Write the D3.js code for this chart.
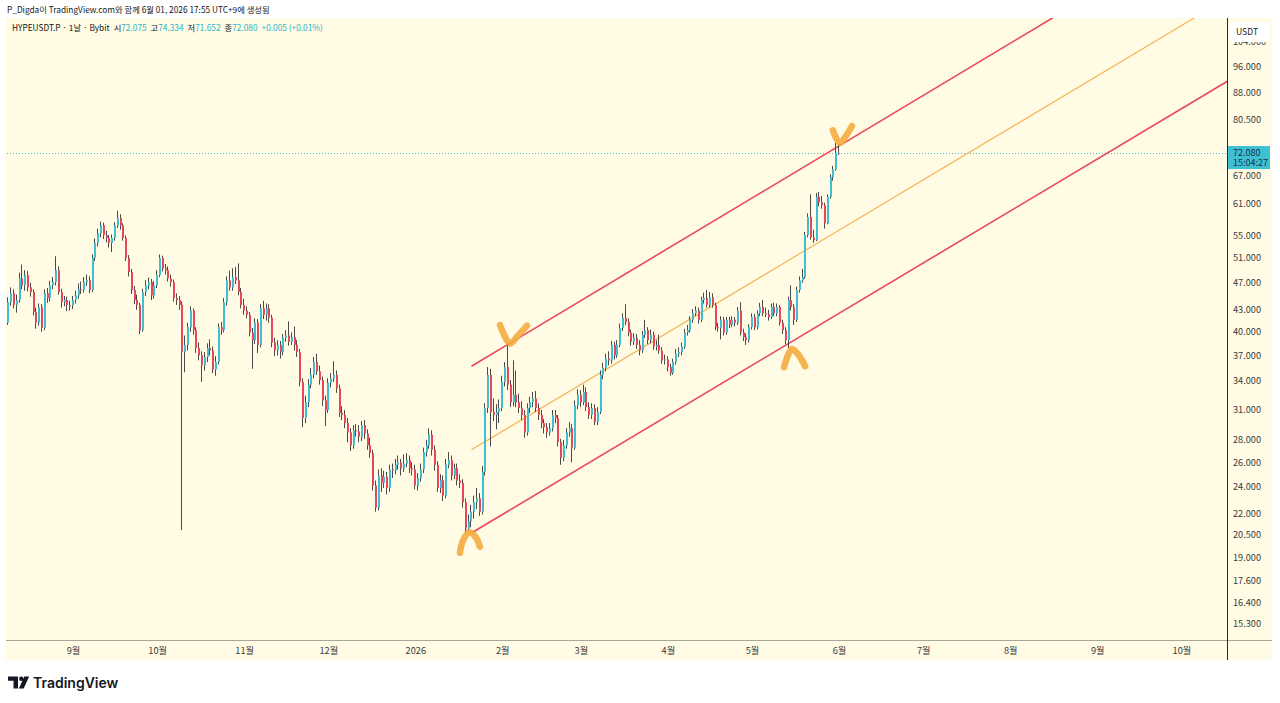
<!DOCTYPE html>
<html><head><meta charset="utf-8">
<script src="https://cdn.jsdelivr.net/npm/d3@7/dist/d3.min.js"></script>
<style>
body{margin:0;background:#fff;}
svg{display:block;}
text{font-family:"Noto Sans CJK KR","Noto Sans",sans-serif;}
</style>
</head><body>
<svg id="chart" width="1280" height="703"></svg>
<script>
// ---------------- DATA ----------------
const startDate = "2025-08-09";   // first daily candle
const firstOpen = 41.2;
const closes = [
44.1,45.4,43.7,44.4,47.7,46.6,48.2,46.3,45.6,42.7,
41.2,43.4,40.5,45.4,44.7,46.6,47.1,49.0,45.6,44.1,
44.4,43.7,43.6,44.4,45.1,46.0,45.9,47.1,47.4,45.9,
51.0,53.6,55.3,56.8,55.0,54.5,53.6,54.5,56.8,58.2,
56.8,54.5,51.0,48.7,45.9,44.4,43.7,40.2,45.6,46.6,
47.1,45.1,46.6,48.2,51.0,49.3,49.0,47.7,47.1,44.7,
44.4,43.7,37.4,38.3,40.6,42.9,40.2,37.9,37.0,35.8,
36.8,37.9,37.6,35.3,36.2,40.6,40.2,44.1,47.4,46.3,
47.9,47.4,45.6,43.7,42.9,42.3,39.9,38.9,41.2,38.3,
43.2,42.3,43.2,41.9,38.6,37.6,38.3,37.4,39.2,39.5,
38.7,39.3,38.3,37.4,33.9,30.1,31.7,33.6,34.7,36.2,
35.1,34.1,31.9,30.9,33.8,34.3,34.7,33.2,30.6,30.4,
29.6,28.7,27.5,28.9,28.8,28.3,29.4,28.6,27.5,26.8,
24.1,22.4,24.9,24.3,24.8,23.9,25.4,25.3,25.8,26.0,
25.5,25.9,26.2,25.5,25.4,24.1,24.7,25.4,26.9,27.5,
28.5,27.1,25.8,23.9,24.5,23.3,25.8,26.2,24.9,25.5,
24.5,24.3,22.8,20.9,21.4,22.1,22.8,23.1,22.1,25.2,
31.1,34.7,30.7,30.4,30.7,31.1,33.9,35.6,33.6,31.7,
32.5,31.7,31.1,30.4,28.7,31.1,31.7,32.1,31.1,30.4,
29.6,29.2,28.7,29.1,30.4,30.1,27.8,26.4,27.5,28.7,
29.1,27.3,31.4,32.5,31.7,32.8,31.2,30.4,31.1,29.7,
30.7,34.7,35.5,36.6,36.4,38.3,37.0,38.3,40.5,41.9,
41.3,39.9,38.7,39.2,38.3,37.6,39.6,40.2,38.9,39.6,
38.1,38.3,37.6,36.4,36.5,35.6,34.9,36.2,37.2,37.4,
38.1,39.9,40.2,41.6,42.5,42.9,41.6,44.4,44.7,43.7,
44.8,43.7,40.6,40.5,41.6,39.9,41.6,40.9,41.6,41.2,
42.9,39.9,39.3,38.9,40.6,42.0,40.6,42.5,43.4,42.5,
42.4,42.0,43.4,42.5,43.4,41.2,40.2,38.9,44.4,43.4,
41.6,45.9,47.4,47.9,55.0,58.4,54.6,54.1,62.4,61.3,
60.7,57.2,62.4,66.6,68.3,72.075,72.080];
const highs = [
44.8,46.3,46.0,45.2,48.6,49.9,49.0,48.9,47.0,46.0,
43.3,43.9,43.8,46.0,46.2,47.3,47.9,51.3,49.6,46.1,
45.0,44.9,44.3,45.0,45.8,46.9,47.2,47.9,48.3,48.0,
51.6,54.4,56.2,57.5,57.3,55.8,55.0,55.1,57.4,59.6,
58.9,57.2,54.9,51.5,49.2,46.5,45.2,44.0,46.1,47.4,
47.8,47.6,47.3,49.0,51.6,51.4,50.0,49.6,48.3,47.5,
45.4,45.0,44.2,39.5,41.2,43.5,43.2,40.6,38.6,37.5,
37.4,38.5,39.0,38.1,36.9,41.1,41.3,44.7,48.0,48.9,
49.3,49.5,50.1,46.2,44.6,43.5,42.7,40.5,41.8,41.7,
43.8,44.3,43.9,43.8,42.3,39.2,38.9,38.8,39.7,40.2,
41.4,39.9,40.7,38.9,37.8,34.3,32.4,34.2,35.5,36.8,
37.2,35.8,34.5,32.4,34.3,34.9,36.3,35.2,33.6,31.3,
30.9,30.1,29.1,29.4,29.5,29.4,29.8,29.9,29.0,28.2,
27.1,24.5,25.4,25.5,25.3,25.2,25.8,25.9,26.3,26.6,
26.3,26.7,26.8,26.6,26.0,25.8,25.1,25.9,27.3,28.0,
29.1,28.9,27.5,26.1,25.0,24.9,26.3,26.9,26.6,25.9,
25.9,25.0,24.6,23.1,21.9,22.6,23.3,23.9,23.5,25.7,
31.6,35.6,35.4,32.1,31.5,32.0,34.6,36.2,38.5,34.1,
36.4,35.2,32.6,31.8,30.9,31.6,32.3,32.8,32.9,31.6,
30.9,30.0,29.6,29.6,30.9,30.9,30.4,28.1,28.0,29.1,
29.7,29.5,31.9,33.1,33.0,33.6,33.3,31.7,31.6,31.5,
31.2,35.2,36.1,37.2,37.5,38.8,38.7,38.9,41.1,42.5,
43.8,41.8,40.3,39.8,39.7,38.9,40.1,41.6,40.6,40.3,
40.0,38.9,39.6,38.0,37.1,36.9,36.0,36.6,37.8,38.0,
38.6,40.4,40.9,42.1,43.1,43.5,43.3,44.9,45.5,45.9,
45.6,45.4,44.0,41.2,42.1,42.0,42.0,42.0,42.1,42.0,
43.4,44.1,40.4,39.8,41.0,42.5,42.4,42.9,44.0,44.4,
43.3,43.0,43.9,44.0,43.9,43.7,41.6,40.6,44.9,46.6,
43.8,46.4,48.0,49.2,55.6,59.1,62.9,56.0,63.2,63.4,
62.6,61.2,62.9,67.2,69.1,74.6,74.334];
const lows = [
40.9,43.6,43.2,42.6,44.0,46.0,45.8,45.7,44.9,42.2,
40.4,40.8,40.0,40.2,44.0,44.2,46.0,46.6,45.2,43.3,
43.5,42.8,42.9,43.1,43.9,44.6,45.3,45.5,46.5,45.4,
45.6,50.5,53.0,54.6,54.3,53.7,52.8,52.0,54.0,56.3,
56.0,54.0,50.5,48.0,45.3,43.8,43.0,39.7,40.0,45.0,
46.0,44.4,44.6,46.2,47.9,48.8,48.3,47.2,46.4,44.2,
43.7,43.0,20.8,35.0,37.6,40.0,39.6,37.3,36.4,33.9,
35.2,36.2,37.0,34.9,34.6,35.9,39.6,39.9,43.6,45.8,
45.8,46.8,45.1,43.2,42.3,41.8,39.4,35.4,38.4,37.3,
38.0,41.7,41.5,41.2,38.0,36.9,37.0,36.6,37.0,38.7,
38.2,38.3,37.6,36.8,33.4,29.2,29.6,31.2,33.2,34.3,
34.7,33.6,31.3,29.3,30.6,33.3,33.9,32.7,30.2,29.9,
29.1,27.8,27.0,27.2,28.3,27.8,27.9,28.1,27.1,26.4,
23.7,22.1,22.2,23.6,23.9,23.4,23.6,24.7,25.0,25.4,
24.9,25.2,25.6,25.1,24.9,23.8,23.7,24.4,25.1,26.5,
27.2,26.6,25.3,23.6,23.5,22.9,23.1,25.5,24.5,24.6,
24.1,23.9,22.4,20.6,20.7,21.0,21.6,22.3,21.8,21.9,
24.9,30.6,27.4,29.8,29.0,29.6,30.8,33.4,33.0,31.2,
31.3,31.2,30.6,29.9,28.2,28.4,30.6,31.2,30.7,29.9,
29.1,28.6,28.2,28.4,28.8,29.6,27.4,25.8,26.1,27.2,
28.3,26.0,27.1,31.0,31.2,31.4,30.8,30.0,30.0,29.4,
29.4,30.5,34.2,35.1,35.8,36.0,36.5,36.7,38.0,40.1,
40.9,39.4,38.2,38.3,37.8,37.0,37.3,39.2,38.4,38.5,
37.7,37.6,37.2,36.0,35.9,35.1,34.6,34.7,35.9,36.8,
37.0,37.8,39.5,39.9,41.2,42.1,41.1,41.3,43.9,43.3,
43.3,43.3,40.2,40.0,39.0,39.5,39.6,40.5,40.6,40.7,
40.9,39.5,38.8,38.3,38.6,40.3,40.2,40.3,42.1,42.1,
42.0,41.5,41.7,42.1,42.1,40.8,39.7,38.4,37.9,42.9,
40.9,41.3,45.5,47.0,47.6,54.6,54.2,53.6,53.9,60.5,
60.0,56.2,57.0,62.0,65.8,68.0,71.652];

const priceTicks = [104,96,88,80.5,72,67,61,55,51,47,43,40,37,34,31,28,26,24,22,20.5,19,17.6,16.4,15.3];
const monthTickDates = ["2025-09-01","2025-10-01","2025-11-01","2025-12-01","2026-01-01","2026-02-01","2026-03-01","2026-04-01","2026-05-01","2026-06-01","2026-07-01","2026-08-01","2026-09-01","2026-10-01"];
const monthTickLabels = ["9월","10월","11월","12월","2026","2월","3월","4월","5월","6월","7월","8월","9월","10월"];

// parallel channel: two anchor dates, price at each anchor
const channelDates = ["2026-01-21","2026-06-01"];
const channelUpper = [35.7, 73.8];
const channelMiddle = [27.1, 55.9];
const channelLower = [20.6, 42.5];

// hand-drawn marks: [day offset from startDate, price]
const markLow1 = [[160.9,19.3],[162.0,20.1],[164.3,20.65],[166.6,20.3],[168.0,19.7]];
const markHigh1 = [[175.2,40.9],[178.7,38.5],[181.6,39.5],[184.8,40.8]];
const markLow2 = [[276.4,35.6],[279.2,37.8],[281.7,37.0],[283.9,35.7]];
const markHigh2 = [[293.8,77.7],[296.3,74.5],[298.6,76.4],[300.6,78.8]];

const lastPrice = 72.080;
const header = {symbol:"HYPEUSDT.P · 1날 · Bybit", o:"72.075", h:"74.334", l:"71.652", c:"72.080", chg:"+0.005 (+0.01%)"};
const countdown = "15:04:27";

// ---------------- LAYOUT ----------------
const W = 1280, H = 703;
const plot = {left:7, right:1227, top:18, bottom:640};
const panelRight = 1272, axisBottom = 660;
const UP = "#3fbfd1", DOWN = "#e5485b", WICK = "#4a4a4a";
const BG = "#fffbe5";
const FONT = '"Noto Sans CJK KR","Noto Sans",sans-serif';

const svg = d3.select("#chart");
const parse = d3.utcParse("%Y-%m-%d");
const t0 = parse(startDate);
const dayAt = off => new Date(t0.getTime() + off*86400000);

const candles = closes.map((c,i)=>({
  date: d3.utcDay.offset(t0, i),
  open: i===0 ? firstOpen : closes[i-1],
  close: c, high: highs[i], low: lows[i]
}));

const x = d3.scaleUtc()
  .domain([new Date(Date.UTC(2025,7,8,12)), new Date(Date.UTC(2026,9,17,6))])
  .range([plot.left, plot.right]);
const y = d3.scaleLog()
  .domain([14.48, 112.5])
  .range([plot.bottom, plot.top]);

// backgrounds
svg.append("rect").attr("x",0).attr("y",0).attr("width",W).attr("height",H).attr("fill","#fff");
svg.append("rect").attr("x",plot.left-1).attr("y",plot.top).attr("width",panelRight-plot.left+1).attr("height",axisBottom-plot.top).attr("fill",BG);

// top credit line
svg.append("text").attr("x",7).attr("y",13).attr("font-size",8.3).attr("fill","#131722")
  .text("P_Digda이 TradingView.com와 함께 6월 01, 2026 17:55 UTC+9에 생성됨");

const defs = svg.append("defs");
defs.append("clipPath").attr("id","plotclip").append("rect")
  .attr("x",plot.left).attr("y",plot.top).attr("width",plot.right-plot.left).attr("height",plot.bottom-plot.top);

const g = svg.append("g").attr("clip-path","url(#plotclip)");

// last price dotted line
g.append("line").attr("x1",plot.left).attr("x2",plot.right)
  .attr("y1",Math.round(y(lastPrice))+0.5).attr("y2",Math.round(y(lastPrice))+0.5)
  .attr("stroke",UP).attr("stroke-width",1).attr("stroke-dasharray","1,2");

// channel lines (ray extended to the right)
function channelLine(vals, color, width){
  const x1 = x(parse(channelDates[0])), y1 = y(vals[0]);
  const x2 = x(parse(channelDates[1])), y2 = y(vals[1]);
  const xe = plot.right + 200;
  const ye = y1 + (y2-y1)/(x2-x1)*(xe-x1);
  g.append("line").attr("x1",x1).attr("y1",y1).attr("x2",xe).attr("y2",ye)
    .attr("stroke",color).attr("stroke-width",width);
}
channelLine(channelMiddle, "#f7b45a", 1.2);
channelLine(channelUpper, "#e8475c", 1.6);
channelLine(channelLower, "#e8475c", 1.6);

// candles
const cg = g.append("g");
candles.forEach(d=>{
  const cx = Math.round(x(d.date));
  const hi = Math.max(d.high, d.open, d.close), lo = Math.min(d.low, d.open, d.close);
  cg.append("line").attr("x1",cx-0.5).attr("x2",cx-0.5)
    .attr("y1",y(hi)).attr("y2",y(lo)).attr("stroke",WICK).attr("stroke-width",1);
  const yt = y(Math.max(d.open,d.close)), yb = y(Math.min(d.open,d.close));
  cg.append("rect").attr("x",cx-1).attr("width",2)
    .attr("y",yt).attr("height",Math.max(1,yb-yt))
    .attr("fill", d.close>=d.open ? UP : DOWN);
});

// hand-drawn marks
const markLine = d3.line().x(p=>x(dayAt(p[0]))).y(p=>y(p[1])).curve(d3.curveCatmullRom);
[markLow1, markHigh1, markLow2, markHigh2].forEach(m=>{
  g.append("path").attr("d",markLine(m)).attr("fill","none")
    .attr("stroke","#f5aa3c").attr("stroke-opacity",0.88).attr("stroke-width",6.5)
    .attr("stroke-linecap","round").attr("stroke-linejoin","round");
});

// symbol / OHLC header
const ht = svg.append("text").attr("x",12).attr("y",31).attr("font-size",8.3).attr("fill","#131722");
ht.append("tspan").text(header.symbol);
[["시",header.o],["고",header.h],["저",header.l],["종",header.c]].forEach(([k,v])=>{
  ht.append("tspan").attr("dx",4).text(k);
  ht.append("tspan").attr("fill","#2bb5c9").text(v);
});
ht.append("tspan").attr("dx",4).attr("fill","#2bb5c9").text(header.chg);

// axes frame lines
svg.append("line").attr("x1",plot.left-1).attr("x2",panelRight).attr("y1",plot.bottom+0.5).attr("y2",plot.bottom+0.5)
  .attr("stroke","#a9a79a").attr("stroke-width",1);
svg.append("line").attr("x1",plot.right+0.5).attr("x2",plot.right+0.5).attr("y1",plot.top).attr("y2",axisBottom)
  .attr("stroke","#2a2a2a").attr("stroke-width",1);

// right price axis
const yAxis = d3.axisRight(y).tickValues(priceTicks).tickFormat(d3.format(".3f")).tickSize(0).tickPadding(6);
const ya = svg.append("g").attr("transform",`translate(${plot.right},0)`).call(yAxis);
ya.select(".domain").remove();
ya.selectAll("text").attr("font-size",9.2).attr("fill","#3a3a3a").style("font-family",FONT);

// bottom time axis
const xAxis = d3.axisBottom(x).tickValues(monthTickDates.map(parse))
  .tickFormat((d,i)=>monthTickLabels[i]).tickSize(0).tickPadding(7);
const xa = svg.append("g").attr("transform",`translate(0,${plot.bottom})`).call(xAxis);
xa.select(".domain").remove();
xa.selectAll("text").attr("font-size",9.2).attr("fill","#3a3a3a").style("font-family",FONT);

// USDT box (covers the upper part of the 104 label, as in the original)
svg.append("rect").attr("x",1229).attr("y",22).attr("width",40).attr("height",20).attr("rx",3).attr("fill","#fff");
svg.append("text").attr("x",1236).attr("y",35).attr("font-size",8.6).attr("fill","#222").text("USDT");

// last price label
const ly = y(lastPrice);
svg.append("rect").attr("x",plot.right+1).attr("y",ly-7).attr("width",42).attr("height",23).attr("fill","#3ec0d3");
svg.append("text").attr("x",1233).attr("y",ly+3).attr("font-size",9).attr("fill","#1c2f45").text(d3.format(".3f")(lastPrice));
svg.append("text").attr("x",1233).attr("y",ly+13).attr("font-size",9).attr("fill","#1c2f45").text(countdown);

// TradingView logo
const logo = svg.append("g").attr("fill","#131722");
logo.append("path").attr("d","M8,676.5 h10 v12 h-4.5 v-7.8 h-5.5 z");
logo.append("circle").attr("cx",21.3).attr("cy",678.8).attr("r",2.2);
logo.append("path").attr("d","M24.3,676.5 h4.8 l-5.4,12 h-4.8 z");
svg.append("text").attr("x",33).attr("y",688).attr("font-size",14).attr("font-weight",600)
  .attr("fill","#131722").style("font-family",'"Inter","Noto Sans",sans-serif').text("TradingView");
</script>
</body></html>
